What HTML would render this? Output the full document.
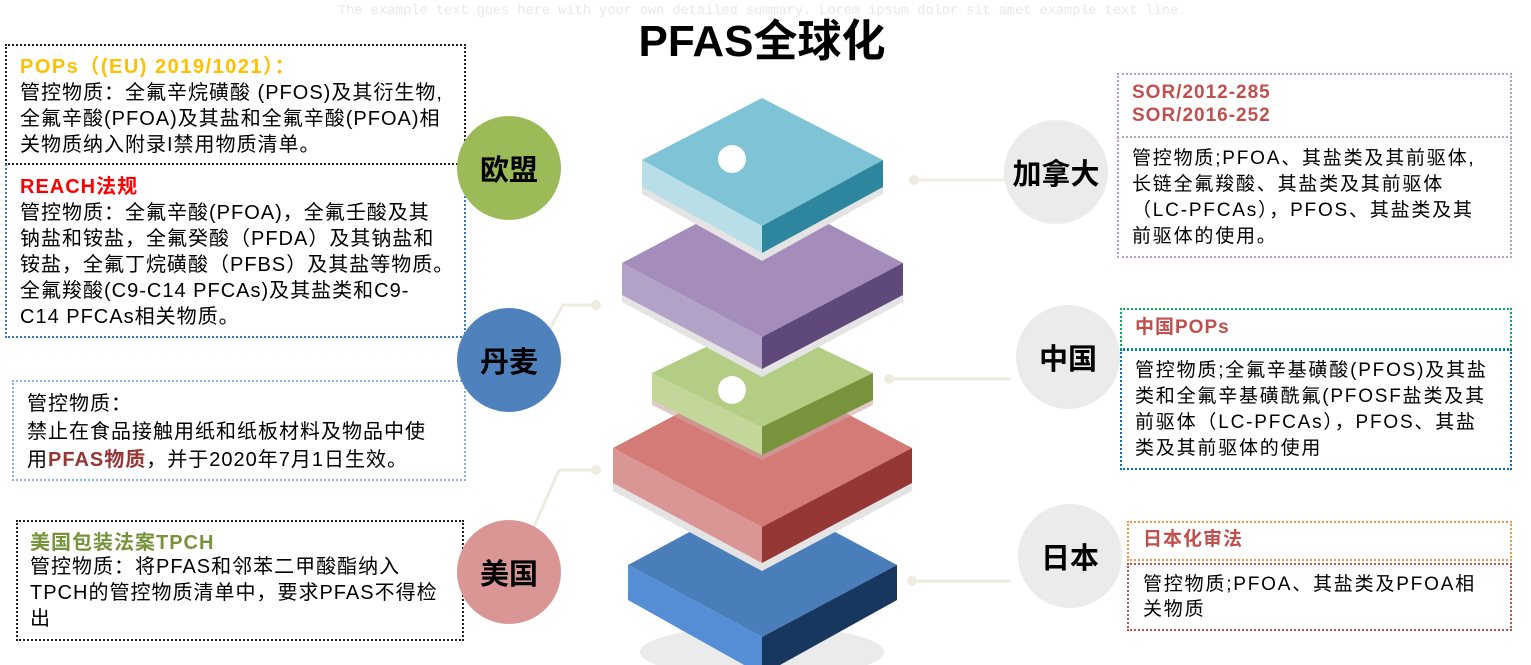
<!DOCTYPE html>
<html><head><meta charset="utf-8">
<style>
body{margin:0;width:1531px;height:665px;background:#fff;position:relative;overflow:hidden;font-family:"Liberation Sans","Noto Sans CJK SC",sans-serif;}
.a{position:absolute;box-sizing:border-box;}
.t{position:absolute;font-size:20px;letter-spacing:1px;line-height:26px;color:#000;white-space:nowrap;}
.r{font-size:19px;letter-spacing:1.8px;}
.c{position:absolute;border-radius:50%;display:flex;align-items:center;justify-content:center;font-weight:bold;font-size:29px;color:#000;}
</style></head><body>
<div class="a" style="left:338px;top:4px;font-family:'Liberation Mono',monospace;font-size:13.6px;color:#e8e8e8;white-space:nowrap">The example text goes here with your own detailed summary. Lorem ipsum dolor sit amet example text line.</div>
<div class="a" style="left:600px;top:12px;width:324px;text-align:center;font-size:44px;font-weight:bold;line-height:60px">PFAS全球化</div>

<svg class="a" style="left:0;top:0" width="1531" height="665">
<g fill="none" stroke="#eeece1" stroke-width="3">
<polyline points="537,352 563,305 596,305"/><polyline points="526,545 559,470 596,470"/>
<line x1="914" y1="180" x2="1005" y2="180"/><line x1="889" y1="379" x2="1010" y2="379"/><line x1="912" y1="581" x2="1010" y2="581"/>
</g>
<g fill="#eeece1"><circle cx="596" cy="305" r="5"/><circle cx="596" cy="470" r="5"/><circle cx="526" cy="545" r="5"/><circle cx="914" cy="180" r="5"/><circle cx="889" cy="379" r="5"/><circle cx="912" cy="581" r="5"/></g>
<!-- blue -->
<ellipse cx="762" cy="652" rx="122" ry="26" fill="#ebebeb"/>
<polygon points="628,565 762,493 897,565 762,637" fill="#4a7ebb"/>
<polygon points="628,565 762,637 762,675 628,600" fill="#558ed5"/>
<polygon points="897,565 762,637 762,675 897,600" fill="#17375e"/>
<!-- red -->
<polygon points="613,456 762,377 912,456 912,491 762,571 613,491" fill="#e4e4e4"/>
<polygon points="613,448 762,369 912,448 762,527" fill="#d47b78"/>
<polygon points="613,448 762,527 762,563 613,483" fill="#d99694"/>
<polygon points="912,448 762,527 762,563 912,483" fill="#953735"/>
<!-- green -->
<polygon points="652,378 762,325 873,378 873,405 762,460 652,405" fill="#c9a9a0" opacity=".6"/>
<polygon points="652,373 762,320 873,373 762,427" fill="#b3cd84"/>
<polygon points="652,373 762,427 762,455 652,400" fill="#c3d79b"/>
<polygon points="873,373 762,427 762,455 873,400" fill="#77933c"/>
<!-- purple -->
<polygon points="622,270 762,196 903,270 903,302 762,377 622,302" fill="#e4e4e4"/>
<polygon points="622,263 762,189 903,263 762,337" fill="#a48dbb"/>
<polygon points="622,263 762,337 762,369 622,295" fill="#b3a2c8"/>
<polygon points="903,263 762,337 762,369 903,295" fill="#5f497a"/>
<!-- cyan -->
<polygon points="642,167 762,105 883,167 883,194 762,261 642,194" fill="#e4e4e4"/>
<polygon points="642,160 762,98 883,160 762,226" fill="#7ec4d6"/>
<polygon points="642,160 762,226 762,253 642,187" fill="#b8dee8"/>
<polygon points="883,160 762,226 762,253 883,187" fill="#2e869e"/>
<circle cx="732" cy="159" r="14" fill="#fff"/><circle cx="732" cy="390" r="14" fill="#fff"/>
</svg>

<div class="a" style="left:5px;top:44px;width:461px;height:121px;border:2px dotted #222"></div>
<div class="a" style="left:5px;top:164px;width:461px;height:174px;border:2px dotted #3a78c0;border-top:none"></div>
<div class="t" style="left:20px;top:54px;color:#ffc000;font-weight:bold;letter-spacing:1.5px">POPs（(EU) 2019/1021）：</div>
<div class="t" style="left:20px;top:80px">管控物质：全氟辛烷磺酸 (PFOS)及其衍生物,<br>全氟辛酸(PFOA)及其盐和全氟辛酸(PFOA)相<br>关物质纳入附录I禁用物质清单。</div>
<div class="t" style="left:20px;top:174px;color:#f00;font-weight:bold">REACH法规</div>
<div class="t" style="left:20px;top:200px">管控物质：全氟辛酸(PFOA)，全氟壬酸及其<br>钠盐和铵盐，全氟癸酸（PFDA）及其钠盐和<br>铵盐，全氟丁烷磺酸（PFBS）及其盐等物质。<br>全氟羧酸(C9-C14 PFCAs)及其盐类和C9-<br>C14 PFCAs相关物质。</div>

<div class="a" style="left:12px;top:380px;width:454px;height:101px;border:2px dotted #8db3e2"></div>
<div class="t" style="left:27px;top:390px;line-height:28px">管控物质：<br>禁止在食品接触用纸和纸板材料及物品中使<br>用<b style="color:#953735">PFAS物质</b>，并于2020年7月1日生效。</div>

<div class="a" style="left:16px;top:520px;width:448px;height:121px;border:2px dotted #222"></div>
<div class="t" style="left:30px;top:530px;color:#77933c;font-weight:bold">美国包装法案TPCH</div>
<div class="t" style="left:30px;top:554px">管控物质：将PFAS和邻苯二甲酸酯纳入<br>TPCH的管控物质清单中，要求PFAS不得检<br>出</div>

<div class="c" style="left:457px;top:116px;width:104px;height:104px;background:#9bbb59">欧盟</div>
<div class="c" style="left:457px;top:308px;width:104px;height:104px;background:#4f81bd">丹麦</div>
<div class="c" style="left:457px;top:520px;width:104px;height:104px;background:#d99694">美国</div>
<div class="c" style="left:1004px;top:120px;width:104px;height:104px;background:#ebebeb">加拿大</div>
<div class="c" style="left:1016px;top:305px;width:104px;height:104px;background:#ebebeb">中国</div>
<div class="c" style="left:1018px;top:504px;width:104px;height:104px;background:#ebebeb">日本</div>

<div class="a" style="left:1117px;top:73px;width:395px;height:65px;border:2px dotted #b3a2c8"></div>
<div class="a" style="left:1117px;top:137px;width:395px;height:121px;border:2px dotted #b3a2c8;border-top:none"></div>
<div class="t" style="left:1132px;top:81px;color:#c0504d;font-weight:bold;font-size:19px;line-height:23px">SOR/2012-285<br>SOR/2016-252</div>
<div class="t r" style="left:1132px;top:146px">管控物质;PFOA、其盐类及其前驱体,<br>长链全氟羧酸、其盐类及其前驱体<br>（LC-PFCAs），PFOS、其盐类及其<br>前驱体的使用。</div>

<div class="a" style="left:1120px;top:308px;width:392px;height:42px;border:2px dotted #00b050"></div>
<div class="a" style="left:1120px;top:349px;width:392px;height:121px;border:2px dotted #0070c0"></div>
<div class="t" style="left:1135px;top:315px;color:#c0504d;font-weight:bold;font-size:19px">中国POPs</div>
<div class="t r" style="left:1135px;top:358px">管控物质;全氟辛基磺酸(PFOS)及其盐<br>类和全氟辛基磺酰氟(PFOSF盐类及其<br>前驱体（LC-PFCAs），PFOS、其盐<br>类及其前驱体的使用</div>

<div class="a" style="left:1127px;top:521px;width:385px;height:40px;border:2px dotted #f79646"></div>
<div class="a" style="left:1127px;top:563px;width:385px;height:68px;border:2px dotted #c0504d"></div>
<div class="t" style="left:1143px;top:527px;color:#c0504d;font-weight:bold;font-size:19px">日本化审法</div>
<div class="t r" style="left:1143px;top:572px;line-height:25px">管控物质;PFOA、其盐类及PFOA相<br>关物质</div>
</body></html>
